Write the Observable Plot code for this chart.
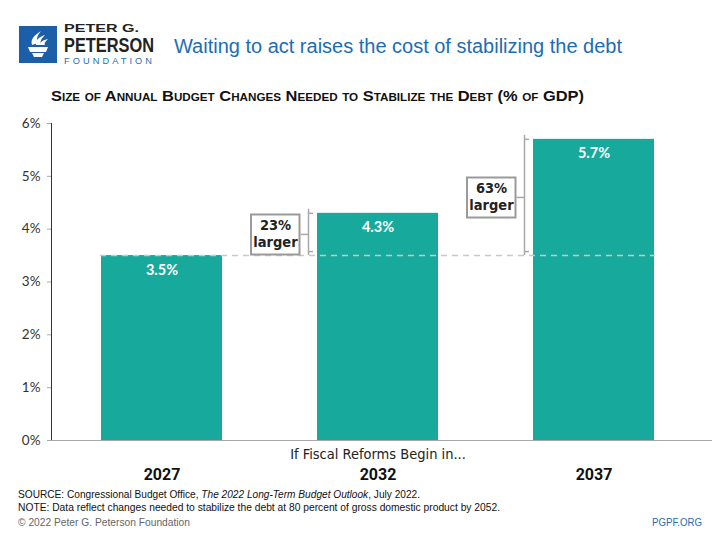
<!DOCTYPE html>
<html>
<head>
<meta charset="utf-8">
<script src="https://cdn.jsdelivr.net/npm/d3@7"></script>
<script src="https://cdn.jsdelivr.net/npm/@observablehq/plot@0.6"></script>
<style>
  html, body { margin: 0; padding: 0; background: #fff; }
  #page { position: relative; width: 720px; height: 540px; overflow: hidden; background: #fff; }
  .narrow { font-family: "Liberation Sans", Arial, sans-serif; }
  .abs { position: absolute; line-height: 1; white-space: nowrap; transform-origin: left top; }
  #wordmark { position: absolute; left: 64px; top: 24.2px; width: 95px; height: 40px; line-height: 0; }
  #wordmark span { display: inline-block; white-space: nowrap; transform-origin: left top; position: relative; }
  #chart { position: absolute; left: 0; top: 110px; }
  #chart g[aria-label^="y-axis"] line, #chart g[aria-label^="y-axis"] path { stroke: #a8a8a8; }
</style>
</head>
<body>
<div id="page">
  <svg class="abs" style="left:19px;top:26px" width="38" height="37" viewBox="0 0 38 37">
    <rect width="38" height="37" fill="#1d5ea8"/>
    <path d="M13 19 C11 13 16 9 22 5 C18 10 17 13 19 17 Z" fill="#fff"/>
    <path d="M17 19 C16 14 20 11 26 9 C22 13 21 15 22 19 Z" fill="#fff"/>
    <path d="M21 19 C21 16 24 14 29 13 C26 16 25 17 26 19 Z" fill="#fff"/>
    <path d="M9 21 H29 L27 26 H11 Z" fill="#fff"/>
    <path d="M13 27 H25 L23 31 H15 Z" fill="#fff"/>
  </svg>
  <div id="wordmark" class="narrow"><span data-w="75" style="top:-1.2px;font-size:11.5px;line-height:11.8px;font-weight:bold;color:#222">PETER G.</span><br><span data-w="90" style="top:0px;font-size:19.5px;line-height:18.2px;font-weight:bold;color:#222">PETERSON</span><br><span data-w="91" style="top:2.4px;font-size:9px;line-height:8.6px;letter-spacing:3px;color:#2b6cb0">FOUNDATION</span></div>
  <div class="abs narrow" data-w="448" style="left:174px;top:35.6px;font-size:20px;color:#1c6db4">Waiting to act raises the cost of stabilizing the debt</div>
  <div class="abs narrow" data-w="533" style="left:51px;top:88.2px;font-size:15.5px;font-weight:bold;font-variant:small-caps;color:#111">Size of Annual Budget Changes Needed to Stabilize the Debt (% of GDP)</div>
  <div id="chart"></div>
  <div class="abs narrow" data-w="402" style="left:18px;top:489px;font-size:11.5px;color:#111">SOURCE: Congressional Budget Office, <i>The 2022 Long-Term Budget Outlook</i>, July 2022.</div>
  <div class="abs narrow" data-w="482" style="left:18px;top:502px;font-size:11.5px;color:#111">NOTE: Data reflect changes needed to stabilize the debt at 80 percent of gross domestic product by 2052.</div>
  <div class="abs narrow" data-w="172" style="left:18px;top:517px;font-size:11.5px;color:#666">© 2022 Peter G. Peterson Foundation</div>
  <div class="abs narrow" data-w="50" style="left:652px;top:517px;font-size:11.5px;color:#2b6cb0">PGPF.ORG</div>
</div>
<script>
const categories = ["2027", "2032", "2037"];
const values = [3.5, 4.3, 5.7];
const increaseLabels = ["", "23%", "63%"];
const yTicks = [0, 1, 2, 3, 4, 5, 6];
const xTitle = "If Fiscal Reforms Begin in...";

const data = categories.map((c, i) => ({year: c, value: values[i], label: increaseLabels[i]}));
const base = values[0];
const ann = data.slice(1).map(d => ({...d, base, mid: (d.value + base) / 2, text: d.label + "\nlarger"}));

const teal = "#17a99b";
const gray = "#a8a8a8";
const condensed = "'DejaVu Sans Condensed', 'Liberation Sans', sans-serif";

const chart = Plot.plot({
  width: 720,
  height: 380,
  marginTop: 13,
  marginBottom: 50,
  marginLeft: 51,
  marginRight: 8,
  style: {fontFamily: "Lato, 'Open Sans', sans-serif", fontSize: "13.5px", color: "#333", background: "transparent", overflow: "visible"},
  x: {domain: categories, paddingInner: 0.439, paddingOuter: 0.245, align: 0.46, axis: null},
  y: {domain: [0, 6], ticks: yTicks, tickFormat: d => d + "%", tickSize: 4, tickPadding: 7, label: null, line: true},
  marks: [
    Plot.barY(data, {x: "year", y: "value", fill: teal}),
    Plot.ruleY([0], {stroke: gray}),
    Plot.ruleY([base], {stroke: "#c8c8c8", strokeDasharray: "6,5", strokeWidth: 1.5, insetLeft: 49, insetRight: 57}),
    Plot.text(data, {x: "year", y: "value", text: d => d.value.toFixed(1) + "%", dy: 14.5, fill: "white", fontWeight: "bold", fontSize: 14.5}),
    // brackets
    Plot.ruleX(ann, {x: "year", y1: "base", y2: "value", dx: -69.5, insetBottom: 4, stroke: gray, strokeWidth: 1.5}),
    Plot.tickY(ann, {x: "year", y: "value", dx: -9, insetRight: 116, stroke: gray, strokeWidth: 1.5}),
    Plot.tickY(ann, {x: "year", y: "base", dy: -4, dx: -9, insetRight: 116, stroke: gray, strokeWidth: 1.5}),
    Plot.tickY(ann, {x: "year", y: "mid", dx: -16.5, insetRight: 113.5, stroke: gray, strokeWidth: 1.5}),
    // boxes
    Plot.tickY(ann, {x: "year", y: "mid", dx: -67, insetRight: 70.5, stroke: "#9a9a9a", strokeWidth: 42}),
    Plot.tickY(ann, {x: "year", y: "mid", dx: -67, insetLeft: 2, insetRight: 72.5, stroke: "white", strokeWidth: 38}),
    Plot.text(ann, {x: "year", y: "mid", text: "text", dx: -102.5, dy: -1, fontFamily: condensed, fontWeight: "bold", fontSize: 14.5, lineHeight: 1.15, fill: "#222"}),
    // x labels
    Plot.text([xTitle], {frameAnchor: "bottom", dy: 18, dx: -4, fontFamily: condensed, fontSize: 14.5, fill: "#222"}),
    Plot.text(categories, {x: d => d, frameAnchor: "bottom", dy: 39, fontFamily: "Roboto, sans-serif", fontSize: 16, fontWeight: "bold", fill: "#111"})
  ]
});
document.getElementById("chart").appendChild(chart);

// condense header/footer texts to the reference's narrow typeface widths
document.querySelectorAll("[data-w]").forEach(el => {
  const w = el.getBoundingClientRect().width;
  el.style.transform = `scaleX(${(+el.dataset.w / w).toFixed(4)})`;
});
</script>
</body>
</html>
